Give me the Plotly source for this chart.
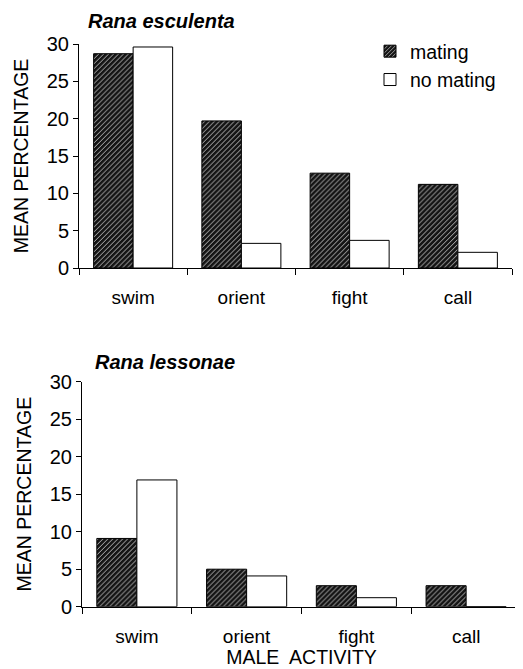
import plotly.graph_objects as go

categories = ["swim", "orient", "fight", "call"]
esculenta_mating = [28.7, 19.7, 12.7, 11.2]
esculenta_no_mating = [29.6, 3.3, 3.7, 2.1]
lessonae_mating = [9.1, 5.0, 2.8, 2.8]
lessonae_no_mating = [16.9, 4.1, 1.2, 0.0]
y_ticks = [0, 5, 10, 15, 20, 25, 30]

# page body has an 8px margin; the figure is sized to fit inside the window
OFF = 8
W, H = 523 - OFF, 669 - OFF
def px(x):
    return (x - OFF) / W
def py(y):
    return 1 - (y - OFF) / H

FONT = "Liberation Sans, Arial, sans-serif"

hatch = dict(shape="/", fgcolor="#d0d0d0", bgcolor="#151515", size=3.5, solidity=0.25, fillmode="replace")

fig = go.Figure()

def add_pair(mating, nomating, xa, ya, show):
    fig.add_trace(go.Bar(x=categories, y=mating, name="mating", xaxis=xa, yaxis=ya,
                         marker=dict(color="#151515", pattern=hatch, line=dict(color="black", width=1)),
                         showlegend=show, legendgroup="m"))
    fig.add_trace(go.Bar(x=categories, y=nomating, name="no mating", xaxis=xa, yaxis=ya,
                         marker=dict(color="white", line=dict(color="black", width=1)),
                         showlegend=show, legendgroup="n"))

add_pair(esculenta_mating, esculenta_no_mating, "x", "y", True)
add_pair(lessonae_mating, lessonae_no_mating, "x2", "y2", False)

xcommon = dict(type="category", tickson="boundaries", ticks="outside", ticklen=6, tickcolor="black",
               showline=True, linecolor="black", linewidth=1, showgrid=False, zeroline=False,
               tickfont=dict(family=FONT, size=19, color="black"), ticklabelstandoff=12,
               range=[-0.5, 3.5], automargin=False)
ycommon = dict(range=[0, 30], tickvals=y_ticks, ticks="outside", ticklen=5, tickcolor="black",
               showline=True, linecolor="black", linewidth=1, showgrid=False, zeroline=False,
               tickfont=dict(family=FONT, size=20, color="black"), automargin=False,
               title=dict(text="MEAN PERCENTAGE", font=dict(family=FONT, size=19.5, color="black"), standoff=12))

fig.update_layout(
    width=W, height=H,
    margin=dict(l=0, r=0, t=0, b=0),
    paper_bgcolor="white", plot_bgcolor="white",
    barmode="group", bargap=0.27, bargroupgap=0,
    xaxis=dict(domain=[px(79), px(512)], anchor="y", **xcommon),
    yaxis=dict(domain=[py(268), py(44)], anchor="x", **ycommon),
    xaxis2=dict(domain=[px(82), px(521)], anchor="y2",
                title=dict(text="MALE  ACTIVITY", font=dict(family=FONT, size=19.5, color="black"), standoff=0),
                **xcommon),
    yaxis2=dict(domain=[py(606.7), py(381.7)], anchor="x2", **ycommon),
    legend=dict(x=px(370), y=py(32), xanchor="left", yanchor="top",
                font=dict(family=FONT, size=19.5, color="black"), bgcolor="rgba(0,0,0,0)",
                itemwidth=30, tracegroupgap=0),
    annotations=[
        dict(text="<b><i>Rana esculenta</i></b>", x=px(86), y=py(8), xref="paper", yref="paper",
             xanchor="left", yanchor="top", showarrow=False, font=dict(family=FONT, size=20, color="black")),
        dict(text="<b><i>Rana lessonae</i></b>", x=px(93), y=py(362), xref="paper", yref="paper",
             xanchor="left", yanchor="middle", showarrow=False, font=dict(family=FONT, size=20, color="black")),
    ],
)

fig.write_html("out.html")
